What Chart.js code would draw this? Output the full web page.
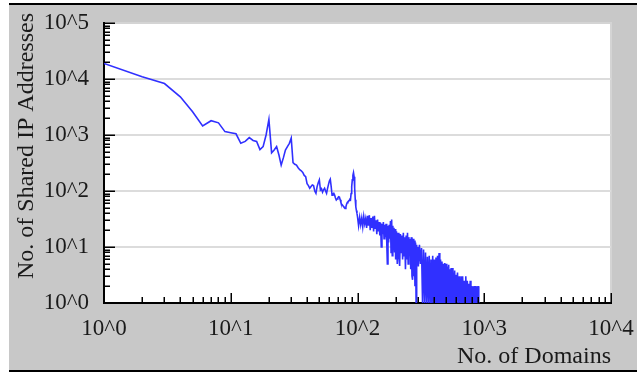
<!DOCTYPE html>
<html>
<head>
<meta charset="utf-8">
<script src="https://cdn.jsdelivr.net/npm/chart.js@4/dist/chart.umd.min.js"></script>
<style>
  html, body { margin: 0; padding: 0; background: #fff; }
  #wrap { width: 637px; height: 373px; }
</style>
</head>
<body>
<div id="wrap"><canvas id="domainChart" width="637" height="373"></canvas></div>
<script>
// number of domains (x) for 1..100
const domainsHead = [
  1, 2, 3, 4, 5, 6, 7, 8, 9, 10,
  11, 12, 13, 14, 15, 16, 17, 18, 19, 20,
  21, 22, 23, 24, 25, 26, 27, 28, 29, 30,
  31, 32, 33, 34, 35, 36, 37, 38, 39, 40,
  41, 42, 43, 44, 45, 46, 47, 48, 49, 50,
  51, 52, 53, 54, 55, 56, 57, 58, 59, 60,
  61, 62, 63, 64, 65, 66, 67, 68, 69, 70,
  71, 72, 73, 74, 75, 76, 77, 78, 79, 80,
  81, 82, 83, 84, 85, 86, 87, 88, 89, 90,
  91, 92, 93, 94, 95, 96, 97, 98, 99, 100
];
// shared IP addresses for those
const sharedHead = [
  19000, 11000, 8300, 4800, 2600, 1450, 1800, 1650, 1150, 1100,
  1050, 710, 770, 900, 800, 770, 550, 620, 1000, 1900,
  480, 540, 620, 440, 290, 390, 540, 620, 710, 880,
  320, 300, 290, 260, 240, 230, 215, 190, 180, 135,
  125, 112, 120, 128, 125, 100, 91, 120, 140, 158,
  104, 110, 95, 105, 112, 100, 91, 110, 130, 150,
  162, 120, 84, 88, 91, 85, 75, 69, 72, 76,
  79, 78, 70, 62, 58, 56, 54, 52, 50, 49,
  52, 58, 62, 64, 66, 68, 70, 69, 90, 120,
  158, 190, 212, 180, 112, 70, 52, 45, 40, 35
];

// noisy tail (> 100 domains)
const domainsTail = [
  102, 104, 106, 108, 110, 112, 114, 116, 118, 120,
  122, 124, 126, 128, 130, 132, 134, 136, 138, 140,
  142, 144, 146, 148, 150, 152, 154, 156, 158, 160,
  162, 164, 166, 168, 170, 172, 174, 176, 178, 180,
  182, 184, 186, 188, 190, 192, 194, 196, 198, 200,
  203, 206, 209, 212, 215, 218, 221, 224, 227, 230,
  233, 236, 239, 242, 245, 248, 251, 254, 257, 260,
  263, 266, 269, 272, 275, 278, 281, 284, 287, 290,
  293, 296, 299, 302, 308, 314, 320, 326, 332, 338,
  344, 350, 356, 362, 368, 374, 380, 386, 392, 398,
  404, 410, 416, 422, 428, 434, 440, 446, 452, 458,
  464, 470, 476, 482, 488, 494, 500, 506, 512, 518,
  524, 530, 536, 542, 548, 554, 560, 566, 572, 578,
  584, 590, 596, 605, 615, 625, 635, 645, 655, 665,
  675, 685, 695, 705, 715, 725, 735, 745, 755, 765,
  775, 785, 795, 805, 815, 825, 835, 845, 855, 865,
  875, 885, 895, 905
];
const sharedTail = [
  24, 34, 25, 33, 23, 35, 26, 32, 22, 36,
  24, 37, 20, 33, 22, 35, 19, 36, 21, 30,
  17, 31, 19, 28, 16, 27, 10, 26, 17, 28,
  14, 25, 15, 26, 13, 5, 24, 12, 25, 14,
  29, 8, 31, 7, 24, 9, 22, 8, 21, 6,
  19, 5, 18, 7, 4.6, 17, 8, 16, 6, 18,
  7, 15, 4, 16, 6, 18, 5, 15, 7, 14,
  4, 15, 3, 2.6, 14, 3, 13, 2, 12, 1,
  11, 5, 10, 4.5, 11, 5, 9.6, 1, 9, 1,
  8, 1, 6.7, 1, 7, 1, 6, 1, 7, 1,
  6, 1, 6.5, 1, 7, 1, 7.8, 1, 6, 1,
  5.5, 1, 5, 1, 5.2, 1, 5, 1, 4.5, 1,
  4.8, 1, 4, 1, 4.2, 1, 4.2, 1, 3.5, 1,
  3.8, 1, 3.2, 1, 3.5, 1, 3, 1, 3, 1,
  3, 1, 2.5, 1, 3, 1, 2.5, 1, 2.2, 1,
  2.5, 1, 2, 1, 2, 1, 2, 1, 2, 1,
  2, 1, 2, 1
];

// axis ticks
const xDecades = [1, 10, 100, 1000, 10000];
const yDecades = [1, 10, 100, 1000, 10000, 100000];
const minorSteps = [2, 3, 4, 5, 6, 7, 8, 9];

const domains = domainsHead.concat(domainsTail);
const shared = sharedHead.concat(sharedTail);
const points = domains.map((d, i) => ({ x: d, y: shared[i] }));

function isDecade(v) {
  const e = Math.log10(v);
  return Math.abs(e - Math.round(e)) < 1e-9;
}
function buildTicks(decades) {
  const out = [];
  decades.forEach((d, i) => {
    out.push({ value: d, major: true });
    if (i < decades.length - 1) minorSteps.forEach(m => out.push({ value: d * m, major: false }));
  });
  return out;
}
function powLabel(v) {
  return isDecade(v) ? '10^' + Math.round(Math.log10(v)) : '';
}

const serif = 'Liberation Serif, Times New Roman, serif';
const clear = 'rgba(0,0,0,0)';

// gray panel, white plot area, inward ticks, y title
const framePlugin = {
  id: 'frame',
  beforeDraw(chart) {
    const { ctx, chartArea: ca, width, height } = chart;
    ctx.save();
    ctx.fillStyle = '#fff';
    ctx.fillRect(0, 0, width, height);
    ctx.fillStyle = '#c8c8c8';
    ctx.fillRect(9, 5, width - 9, 365);
    ctx.fillStyle = '#000';
    ctx.fillRect(9, 3, width - 9, 2);
    ctx.fillRect(9, 370, width - 9, 2);
    ctx.fillStyle = '#fff';
    ctx.fillRect(ca.left, ca.top, ca.right - ca.left, ca.bottom - ca.top);
    ctx.strokeStyle = '#d4d4d4';
    ctx.lineWidth = 2;
    ctx.beginPath();
    ctx.moveTo(ca.left, ca.top);
    ctx.lineTo(ca.right, ca.top);
    ctx.lineTo(ca.right, ca.bottom);
    ctx.stroke();
    ctx.restore();
  },
  afterDatasetsDraw(chart) {
    const { ctx, chartArea: ca, scales } = chart;
    ctx.save();
    ctx.strokeStyle = '#000';
    ctx.lineWidth = 1.5;
    ctx.beginPath();
    scales.x.ticks.forEach(t => {
      const px = Math.round(scales.x.getPixelForValue(t.value)) + 0.25;
      ctx.moveTo(px, ca.bottom);
      ctx.lineTo(px, ca.bottom - (t.major ? 10 : 6));
    });
    scales.y.ticks.forEach(t => {
      const py = Math.round(scales.y.getPixelForValue(t.value)) + 0.25;
      ctx.moveTo(ca.left, py);
      ctx.lineTo(ca.left + (t.major ? 11 : 6), py);
    });
    ctx.stroke();
    ctx.restore();
  },
  afterDraw(chart) {
    const { ctx } = chart;
    ctx.save();
    ctx.translate(33, 146);
    ctx.rotate(-Math.PI / 2);
    ctx.fillStyle = '#1a1a1a';
    ctx.font = '24px ' + serif;
    ctx.textAlign = 'center';
    ctx.textBaseline = 'alphabetic';
    ctx.fillText('No. of Shared IP Addresses', 0, 0);
    ctx.restore();
  }
};

const ctx = document.getElementById('domainChart').getContext('2d');
new Chart(ctx, {
  type: 'line',
  data: {
    datasets: [{
      data: points,
      borderColor: '#3030ff',
      borderWidth: 1.6,
      pointRadius: 0,
      tension: 0,
      fill: false
    }]
  },
  options: {
    responsive: false,
    animation: false,
    devicePixelRatio: 1,
    layout: { autoPadding: false, padding: { left: 0, right: 26, top: 23, bottom: 0 } },
    plugins: {
      legend: { display: false },
      tooltip: { enabled: false }
    },
    scales: {
      x: {
        type: 'logarithmic',
        min: 1,
        max: 10000,
        afterBuildTicks: s => { s.ticks = buildTicks(xDecades); },
        afterFit: s => { s.height = 70; },
        // tick space used only to push labels down; marks drawn inward by the plugin
        grid: { display: true, color: clear, drawTicks: true, tickLength: 12, tickColor: clear },
        border: { display: true, color: '#000', width: 2 },
        ticks: {
          autoSkip: false,
          maxRotation: 0,
          padding: 0,
          color: '#1a1a1a',
          font: { family: serif, size: 23 },
          callback: v => powLabel(v)
        },
        title: {
          display: true,
          text: 'No. of Domains',
          align: 'end',
          color: '#1a1a1a',
          font: { family: serif, size: 24 },
          padding: { top: 0, bottom: 2 }
        }
      },
      y: {
        type: 'logarithmic',
        min: 1,
        max: 100000,
        afterBuildTicks: s => { s.ticks = buildTicks(yDecades); },
        afterFit: s => { s.width = 104; },
        grid: {
          drawTicks: true,
          tickLength: 15,
          tickColor: clear,
          lineWidth: 2,
          color: c => (c.tick && isDecade(c.tick.value) && c.tick.value > 1 && c.tick.value < 100000) ? '#dcdcdc' : clear
        },
        border: { display: true, color: '#000', width: 2 },
        ticks: {
          autoSkip: false,
          padding: 0,
          color: '#1a1a1a',
          font: { family: serif, size: 23 },
          callback: v => powLabel(v)
        }
      }
    }
  },
  plugins: [framePlugin]
});
</script>
</body>
</html>
